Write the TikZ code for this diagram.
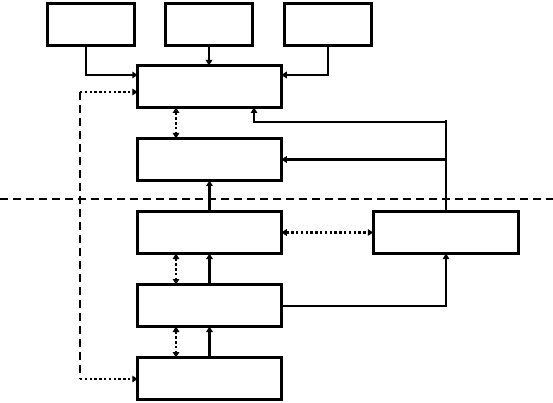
\documentclass[tikz,border=0pt]{standalone}
\usetikzlibrary{arrows.meta}
\begin{document}
\begin{tikzpicture}[x=1pt,y=-1pt,
  box/.style={draw, line width=3pt, minimum width=143.5pt, minimum height=42pt, inner sep=0pt, outer sep=0pt},
  smallbox/.style={box, minimum width=87pt},
  tip/.tip={Triangle[length=5.5pt,width=6.5pt]},
  arr/.style={line width=2.7pt, -tip},
  dotline/.style={line width=2.7pt, dash pattern=on 2.4pt off 2.4pt},
  dotarr/.style={dotline, tip-tip},
  dotone/.style={dotline, -tip},
  dashline/.style={line width=2.6pt, dash pattern=on 8pt off 5pt},
  plain/.style={line width=2.7pt}
]
\useasboundingbox (0,0) rectangle (553,403);
% boxes
\node[smallbox] (t1) at (91,24.5) {};
\node[smallbox] (t2) at (209,24.5) {};
\node[smallbox] (t3) at (328,24.5) {};
\node[box] (A) at (209.5,86.5) {};
\node[box] (B) at (209.5,159.5) {};
\node[box] (C) at (209.5,232.5) {};
\node[box] (D) at (209.5,305.5) {};
\node[box] (E) at (209.5,378.5) {};
\node[box, minimum width=145.5pt] (F) at (446,232.5) {};
% helper coordinates
\coordinate (y75) at (0,75);
\coordinate (x86) at (86,0);
\coordinate (x328) at (328,0);
\coordinate (x176) at (176,0);
\coordinate (x254) at (254,0);
\coordinate (x446) at (446,0);
\coordinate (y122) at (0,122);
\coordinate (y120) at (0,120);
\coordinate (y306) at (0,306);
\coordinate (y92) at (0,92);
\coordinate (y379) at (0,379);
\coordinate (x80) at (80,0);
\coordinate (k1) at (x80 |- y92);
\coordinate (k2) at (x80 |- y379);
\coordinate (hl) at (0,199);
\coordinate (hr) at (553,199);
\coordinate (vtop) at (x446 |- y120);
\coordinate (h122) at (x254 |- y122);
\coordinate (h306) at (x446 |- y306);
% top inputs
\draw[arr] (t1.south -| x86) |- (A.west |- y75);
\draw[arr] (t2.south) -- (A.north -| t2.south);
\draw[arr] (t3.south -| x328) |- (A.east |- y75);
% feedback from right vertical
\draw[plain] (vtop) -- (F.north -| vtop);
\draw[arr] (vtop |- y122) -- (h122) -- (A.south -| x254);
\draw[arr] (vtop |- B.east) -- (B.east);
% vertical solid arrows
\draw[arr] (C.north) -- (B.south);
\draw[arr] (D.north) -- (C.south);
\draw[arr] (E.north) -- (D.south);
% dotted double arrows
\draw[dotarr] (A.south -| x176) -- (B.north -| x176);
\draw[dotarr] (C.south -| x176) -- (D.north -| x176);
\draw[dotarr] (D.south -| x176) -- (E.north -| x176);
\draw[dotarr] (C.east) -- (F.west);
% D to F
\draw[arr] (D.east |- y306) -- (h306) -- (F.south -| h306);
% left dashed feedback
\draw[dashline] (k1) -- (k2);
\draw[dotone] (k1) -- (A.west |- y92);
\draw[dotone] (k2) -- (E.west |- y379);
% horizontal dashed separator
\draw[dashline] (hl) -- (hr);
\end{tikzpicture}
\end{document}
